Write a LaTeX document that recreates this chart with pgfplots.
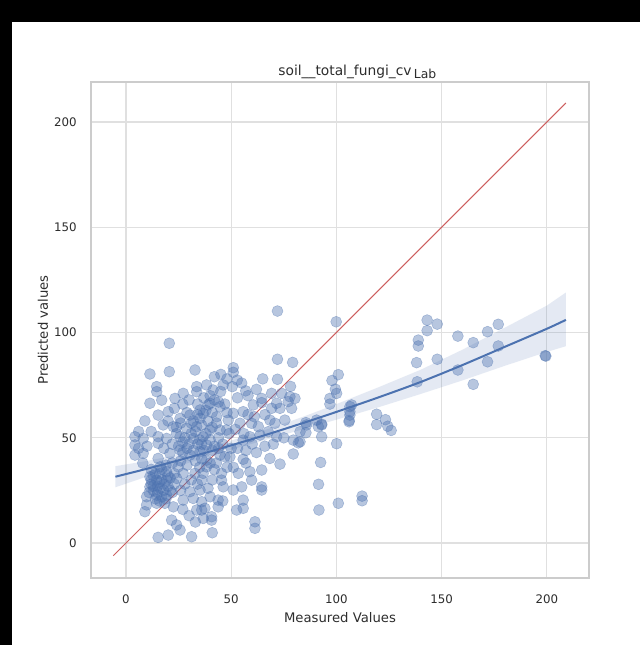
\documentclass[border=0pt]{standalone}
\usepackage{fontspec}
\setmainfont{DejaVu Sans}
\usepackage{pgfplots}
\usepackage{pgfplotstable}
\pgfplotsset{compat=1.18}

\definecolor{sbblue}{RGB}{76,114,176}
\definecolor{sbred}{RGB}{205,95,95}
\definecolor{gridc}{RGB}{224,224,224}
\definecolor{framec}{RGB}{204,204,204}
\definecolor{txt}{RGB}{45,45,45}

% measured vs predicted
\pgfplotstableread{
x y
99.9 105.1
143.1 105.9
147.9 104
143.1 100.9
138.9 96.4
138.9 93.6
138.1 85.7
147.9 87.3
138.4 76.6
157.7 98.3
157.7 82.2
165 95.2
165 75.4
171.8 100.4
176.9 103.9
176.9 93.6
171.8 86.1
199.5 88.8
199.2 89
119.1 61.2
119.1 56.3
123.3 58.6
124.4 55.5
126 53.5
106.4 64.8
106.4 62.4
106.1 58.2
106 57.6
100.1 47.2
100.9 18.9
112.2 22.3
112.2 20.1
100.9 80
97.9 77.2
99.5 73.1
100.1 71.1
96.9 68.7
96.9 66
107.2 65.6
106.4 60.8
93 56.1
93 56.5
91.4 55.3
85.5 57.2
85.5 52.4
82.7 48.1
93 50.5
92.5 38.3
91.5 27.9
91.7 15.7
72 110.2
72 87.3
79.2 85.8
72 77.8
78.2 74.4
51 83.3
51 81.1
45.1 80.1
52.9 77.4
50.5 74.3
56.9 72.3
46.2 75.1
41.4 72.7
38.3 75.1
64.5 68.7
64.5 66.7
60.5 65.6
69.2 71.1
74 71.1
77.9 69.5
80.3 68.7
71.6 66.4
77.1 67.2
73.2 64
69.2 64
78.7 64
55.7 62.4
51 61.6
44.7 64.8
39.9 66.4
43.1 60
48.6 58.4
44.7 53.7
39.9 53.7
54.2 56.9
59.7 56.9
62.9 55.3
68.4 58.4
70.8 56.9
75.5 58.4
63.7 51.3
58.9 50.5
67.6 52.9
82.7 52.9
85.8 56.1
90.6 58.4
79.5 48.9
71.6 50.5
55.7 48.9
47.8 53.7
36.7 61.6
81.9 47.6
79.5 42.3
68.4 40.2
73.2 37.5
64.5 34.7
58.9 33.9
55.7 39.8
53.4 33.1
49.4 41
44.7 41.8
45.4 33.1
45.4 29.9
46.2 26.7
51 25.2
55 26.7
59.7 29.9
64.5 26.7
64.5 25.2
55.7 20.4
55.7 16.5
52.6 15.7
43.8 20.4
43.8 17.2
40.7 12.5
40.7 10.9
36.7 11.7
41 4.9
61.3 10.1
61.3 7
36 19.6
36 15.7
36.7 33.1
36 29.9
38.3 39.4
38.3 36.2
20.6 94.9
11.4 80.3
20.6 81.4
32.8 82.2
14.6 74.3
14.6 71.9
11.4 66.4
17 67.9
23.3 68.7
27.2 71.1
33.6 74.3
33.6 71.9
15.3 60.8
20.1 62.4
25.7 59.2
30.4 60.8
35.2 63.2
35.2 59.2
39.1 65.6
17.7 56.1
22.5 55.3
28.8 54.5
33.6 55.3
4.3 50.5
4.3 46.6
8.2 49.7
15.3 50.5
19.3 49.7
25.7 50.5
32 49.7
36.7 50.5
4.3 41.8
8.2 42.6
15.3 47.4
15.3 40.2
20.9 42.6
25.7 44.2
30.4 41.8
35.2 43.4
38.3 46.6
11.4 31.5
14.6 29.9
11.4 26.7
16.2 26
19.3 29.9
24.1 30.7
14.6 22.8
19.3 22.8
9.8 22
9.8 18.1
9 14.9
14.6 18.9
18.5 18.9
22.5 17.2
27.2 20.4
32 21.2
35.2 25.2
30.4 24.4
33.6 15.7
37.5 16.5
21.7 10.9
24.1 8.6
25.7 6.2
20.1 3.8
15.3 2.7
31.2 3
24.8 36.2
19.3 33.9
27.2 33.1
32.8 33.1
16.2 36.2
12 28
13 25
15 27
17 30
18 25
13 32
16 33
20 27
21 31
14 21
17 22
12 35
19 37
22 24
23 28
11 24
22 47
24 52
27 48
29 45
31 52
34 47
37 44
40 49
42 46
44 50
26 57
29 62
32 58
34 66
37 69
41 62
43 57
23 64
27 66
30 68
36 56
39 58
42 68
45 72
47 66
48 62
46 47
49 52
52 54
53 45
50 45
57 44
60 47
56 52
26 39
29 37
33 39
35 36
40 38
42 35
28 28
31 30
34 28
39 26
41 30
43 38
48 36
40 22
46 20
30 13
27 16
33 10
58 61
61 60
66 61
62 43
66 46
70 47
75 50
53 69
58 70
62 73
55 76
48 78
42 79
65 78
8 38
6 45
10 46
12 53
9 58
6 53
20 58
18 45
22 38
26 25
36 40
47 41
51 36
57 38
13 27
15 24
16 29
18 28
14 33
17 35
20 32
21 25
12 30
16 20
19 21
23 33
25 46
28 50
30 47
33 53
35 49
38 52
41 55
31 57
34 61
38 63
40 70
44 67
27 43
32 44
36 47
41 44
44 45
24 55
}\scatterdata

% fitted curve
\pgfplotstableread{
x y
-5 31.5
10 35.3
25 39.3
40 43.5
55 47.9
70 52.5
85 57.3
100 62.3
120 69.2
140 76.5
160 84.6
180 93.2
200 101.8
209 106.0
}\fitdata

% confidence band outline: upper edge left to right, lower edge right to left
\pgfplotstableread{
x y
-5 36.5
10 39.0
25 42.0
40 45.7
55 50.2
70 55.0
85 60.3
100 66.0
120 74.0
140 82.3
160 91.9
180 102.3
200 112.8
209 119.0
209 93.5
200 90.8
180 84.2
160 77.3
140 70.8
120 64.5
100 58.6
85 54.3
70 50.0
55 45.8
40 41.3
25 36.6
10 31.6
-5 26.5
}\banddata

\begin{document}
\begin{tikzpicture}
\fill[black] (-45.5pt,-33.5pt) rectangle (274.5pt,289pt);
\fill[white] (-39.5pt,-33.5pt) rectangle (274.5pt,278pt);
\begin{axis}[
    at={(0,0)}, anchor=south west,
    scale only axis, width=249pt, height=248pt,
    xmin=-16.6, xmax=220, ymin=-16.6, ymax=219,
    xtick={0,50,...,200}, ytick={0,50,...,200},
    major tick length=0pt,
    grid=major,
    major grid style={gridc, line width=0.6pt},
    axis line style={framec, line width=0.7pt},
    /pgf/number format/assume math mode=true,
    ticklabel style={font=\fontsize{5.9}{7}\selectfont, text=txt, inner sep=0pt},
    xticklabel style={anchor=north, yshift=-8pt},
    yticklabel style={anchor=east, xshift=-7pt},
    xlabel={Measured Values},
    ylabel={Predicted values},
    label style={font=\fontsize{6.6}{8}\selectfont, text=txt, inner sep=0pt},
    xlabel style={at={([yshift=-20pt]axis description cs:0.5,0)}, anchor=center},
    ylabel style={at={([xshift=-24pt]axis description cs:0,0.5)}, anchor=center},
]
\addplot[fill=sbblue, fill opacity=0.15, draw=none] table {\banddata};
\addplot[only marks, mark=*, mark size=2.75pt, color=sbblue,
    mark options={draw=sbblue, line width=0.25pt, fill=sbblue, opacity=0.4}] table {\scatterdata};
\addplot[sbblue, line width=1pt, smooth] table {\fitdata};
\addplot[sbred, line width=0.5pt] coordinates {(-6,-6) (209,209)};
\end{axis}
\node[anchor=base west, inner sep=0pt, text=txt, font=\fontsize{6.9}{8}\selectfont]
    at (93.5pt,251.5pt) {soil\_\_total\_fungi\_cv\,\raisebox{-1.6pt}{\fontsize{6.2}{7}\selectfont Lab}};
\end{tikzpicture}
\end{document}
